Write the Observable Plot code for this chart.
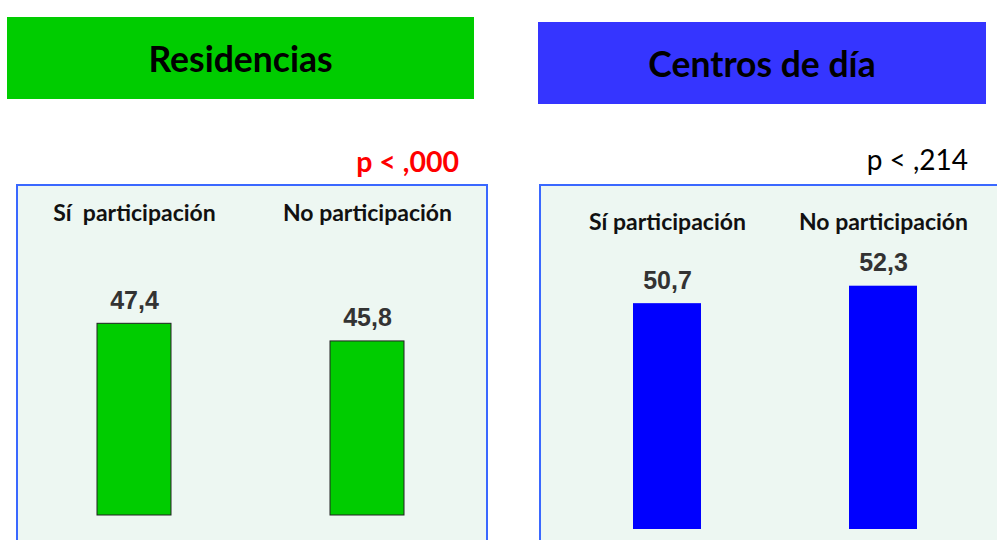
<!DOCTYPE html>
<html>
<head>
<meta charset="utf-8">
<script src="https://cdn.jsdelivr.net/npm/d3@7"></script>
<script src="https://cdn.jsdelivr.net/npm/@observablehq/plot@0.6"></script>
<style>
  html, body { margin: 0; padding: 0; background: #ffffff; }
  #root { position: relative; width: 997px; height: 540px; overflow: hidden; background: #fff; }
  .title { position: absolute; display: flex; align-items: center; justify-content: center;
           font-family: Lato, "Open Sans", sans-serif; font-weight: bold; font-size: 35.5px; color: #000; }
  .pval { position: absolute; font-family: Lato, "Open Sans", sans-serif; white-space: pre; text-align: right; line-height: 1; }
  .panel { position: absolute; border: 2px solid #3a68ff; background: #edf7f2; overflow: hidden; }
  .panel svg { display: block; white-space: pre; }
</style>
</head>
<body>
<div id="root">
  <div class="title" id="t1" style="left:7px; top:17px; width:467px; height:82px; background:#00cc00;"></div>
  <div class="title" id="t2" style="left:538px; top:22px; width:448px; height:82px; background:#3535ff;"></div>
  <div class="pval" id="p1" style="right:538px; top:147px; font-size:28.5px; font-weight:bold; color:#ff0000;"></div>
  <div class="pval" id="p2" style="right:29px; top:145px; font-size:28px; color:#000;"></div>
  <div class="panel" id="panel1" style="left:16px; top:184px; width:468px; height:370px;"></div>
  <div class="panel" id="panel2" style="left:539px; top:184px; width:470px; height:370px;"></div>
</div>
<script>
// ---- data ----
const panelTitles = ["Residencias", "Centros de día"];
const pValues = ["p < ,000", "p < ,214"];
const categoriesRes = ["Sí  participación", "No participación"];
const valuesRes = [47.4, 45.8];
const categoriesDia = ["Sí participación", "No participación"];
const valuesDia = [50.7, 52.3];
const baseline = 30;

document.getElementById("t1").textContent = panelTitles[0];
document.getElementById("t2").textContent = panelTitles[1];
document.getElementById("p1").textContent = pValues[0];
document.getElementById("p2").textContent = pValues[1];

const fmt = v => v.toFixed(1).replace(".", ",");

function panel(categories, values, opts) {
  const data = categories.map((c, i) => ({cat: c, value: values[i]}));
  return Plot.plot({
    width: opts.width,
    height: 370,
    marginTop: opts.labelY,
    marginLeft: 0, marginRight: 0, marginBottom: 0,
    style: {background: "transparent", fontFamily: "Lato, 'Open Sans', sans-serif", color: "#111"},
    x: {type: "band", domain: categories, range: opts.xRange, paddingInner: opts.pInner, paddingOuter: 0.2},
    y: {domain: [baseline, 60], range: opts.yRange, axis: null},
    marks: [
      Plot.axisX({anchor: "top", tickSize: 0, tickPadding: 0, label: null,
                  fontSize: 23, fontWeight: "bold", fontFamily: "Lato, 'Open Sans', sans-serif", fill: "#111"}),
      Plot.barY(data, {x: "cat", y1: baseline, y2: "value", fill: opts.fill,
                       stroke: opts.stroke, strokeWidth: opts.stroke ? 1 : 0}),
      Plot.text(data, {x: "cat", y: "value", text: d => fmt(d.value), lineAnchor: "bottom", dy: -15,
                       fontSize: 25, fontWeight: "bold", fontFamily: "'Liberation Sans', Arial, sans-serif", fill: "#333"})
    ]
  });
}

document.getElementById("panel1").appendChild(panel(categoriesRes, valuesRes, {
  width: 468, labelY: 34, xRange: [32.3, 433.2], pInner: 0.683, yRange: [329, -1.5],
  fill: "#00cc00", stroke: "#222"
}));
document.getElementById("panel2").appendChild(panel(categoriesDia, valuesDia, {
  width: 470, labelY: 43, xRange: [47.6, 419.4], pInner: 0.6866, yRange: [343, 15.7],
  fill: "#0000ff", stroke: null
}));
</script>
</body>
</html>
